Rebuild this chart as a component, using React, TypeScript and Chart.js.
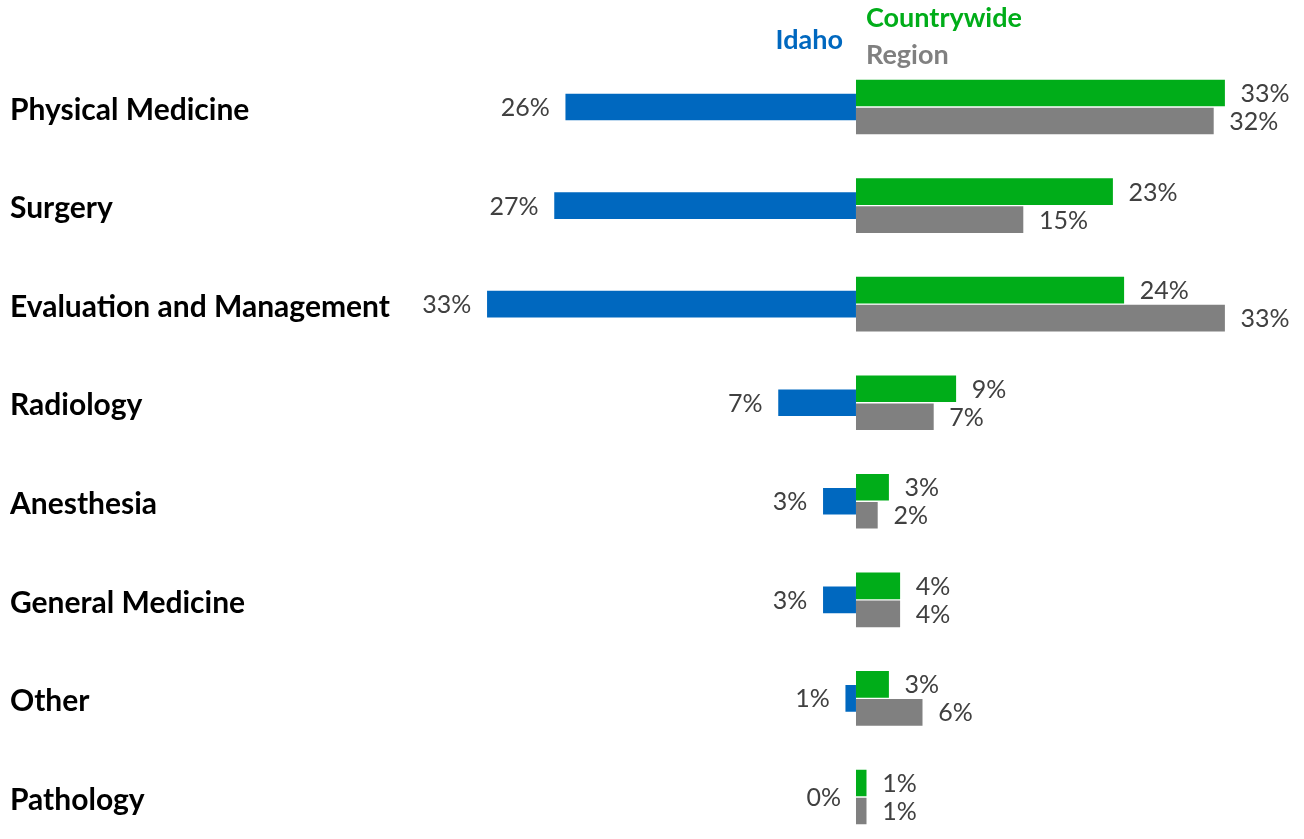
import React, { useEffect, useRef } from "react";
import { Chart, registerables } from "chart.js";

Chart.register(...registerables);

const categories = [
  "Physical Medicine",
  "Surgery",
  "Evaluation and Management",
  "Radiology",
  "Anesthesia",
  "General Medicine",
  "Other",
  "Pathology",
];
const idaho = [26, 27, 33, 7, 3, 3, 1, 0];
const countrywide = [33, 23, 24, 9, 3, 4, 3, 1];
const region = [32, 15, 33, 7, 2, 4, 6, 1];

const BLUE = "#0068BF";
const GREEN = "#00AD19";
const GRAY = "#808080";
const LABEL = "#404040";
const FONT = "Lato, 'Open Sans', sans-serif";

const overlayPlugin = {
  id: "overlay",
  afterDatasetsDraw(chart: any) {
    const ctx = chart.ctx;
    ctx.save();
    ctx.font = `400 25px ${FONT}`;
    ctx.fillStyle = LABEL;
    ctx.textBaseline = "middle";
    chart.data.datasets.forEach((ds: any, di: number) => {
      const meta = chart.getDatasetMeta(di);
      meta.data.forEach((bar: any, i: number) => {
        const v = Math.abs(ds.data[i]);
        const text = `${v}%`;
        if (ds.data[i] < 0 || di === 0) {
          ctx.textAlign = "right";
          ctx.fillText(text, Math.min(bar.x, bar.base) - 15, bar.y + 1);
        } else {
          ctx.textAlign = "left";
          ctx.fillText(text, Math.max(bar.x, bar.base) + 15, bar.y + 1);
        }
      });
    });
    const x0 = chart.scales.x.getPixelForValue(0);
    ctx.font = `700 27px ${FONT}`;
    ctx.textAlign = "right";
    ctx.fillStyle = BLUE;
    ctx.fillText("Idaho", x0 - 13, 40);
    ctx.textAlign = "left";
    ctx.fillStyle = GREEN;
    ctx.fillText("Countrywide", x0 + 10, 18);
    ctx.fillStyle = GRAY;
    ctx.fillText("Region", x0 + 10, 55);
    ctx.restore();
  },
};

export default function App() {
  const ref = useRef<HTMLCanvasElement | null>(null);
  useEffect(() => {
    document.body.style.margin = "0";
    if (!ref.current) return;
    const common = {
      borderColor: "rgba(255,255,255,0.6)",
      borderWidth: 1,
      barThickness: 28,
      clip: false,
    };
    const chart = new Chart(ref.current, {
      type: "bar",
      data: {
        labels: categories,
        datasets: [
          {
            label: "Idaho",
            data: idaho.map((v) => -v),
            backgroundColor: BLUE,
            grouped: false,
            ...common,
          } as any,
          {
            label: "Countrywide",
            data: countrywide,
            backgroundColor: GREEN,
            ...common,
          },
          {
            label: "Region",
            data: region,
            backgroundColor: GRAY,
            ...common,
          },
        ],
      },
      options: {
        indexAxis: "y",
        animation: false,
        responsive: false,
        layout: { padding: { top: 107, bottom: 42, left: 10, right: 10 } },
        plugins: { legend: { display: false }, tooltip: { enabled: false } },
        scales: {
          x: {
            display: false,
            min: -39.82,
            max: 39.11,
          },
          y: {
            offset: false,
            grid: { display: false },
            border: { display: false },
            ticks: {
              crossAlign: "far",
              color: "#000000",
              font: { family: FONT, size: 30, weight: "bold" },
              autoSkip: false,
              labelOffset: 3,
            },
            afterFit: (scale: any) => {
              scale.width = 400;
            },
          },
        },
      } as any,
      plugins: [overlayPlugin],
    });
    return () => chart.destroy();
  }, []);
  return (
    <div style={{ width: 1304, height: 839 }}>
      <canvas ref={ref} width={1304} height={839} style={{ display: "block" }} />
    </div>
  );
}
